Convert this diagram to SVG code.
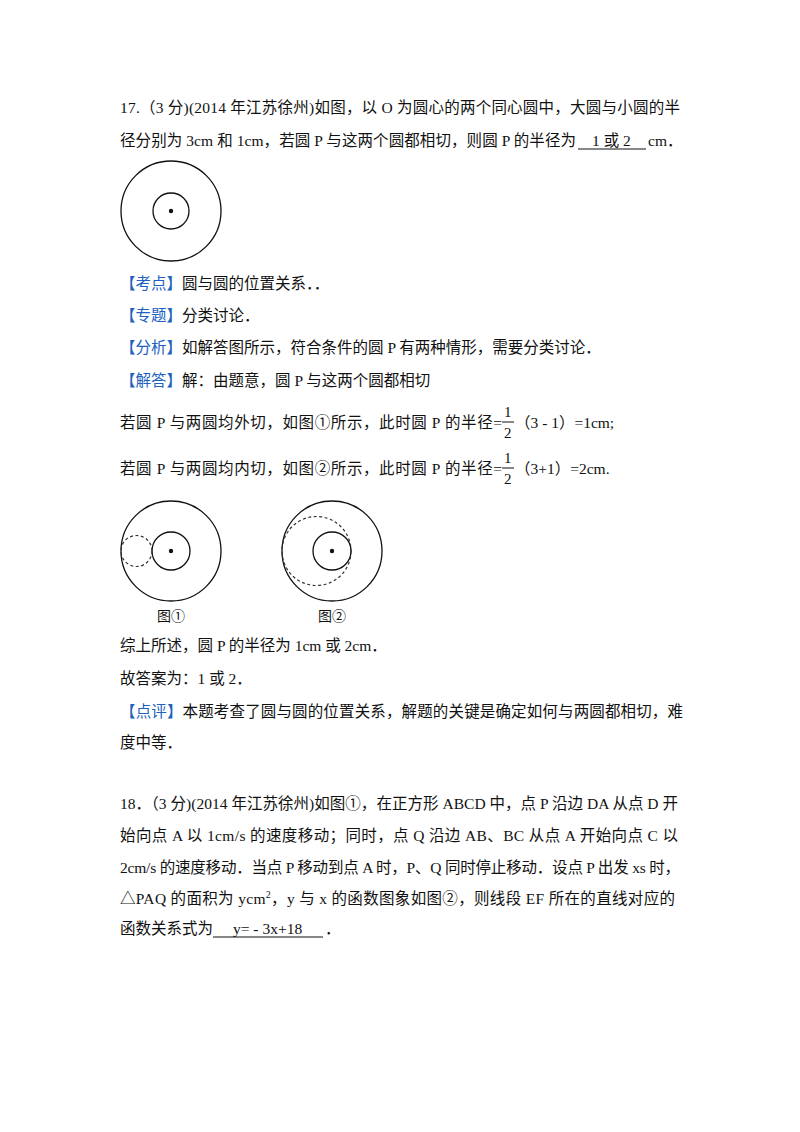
<svg xmlns="http://www.w3.org/2000/svg" width="800" height="1132" viewBox="0 0 800 1132">
<style>
text{font-family:"Liberation Serif","Noto Sans CJK SC",serif;font-size:15.5px;fill:#111}
.b{fill:#2060c0}
.c{fill:none;stroke:#111;stroke-width:1.3}
.d{fill:none;stroke:#333;stroke-width:1.2;stroke-dasharray:3 2.5}
.u{stroke:#111;stroke-width:1}
.s{font-size:15px}
</style>
<rect width="800" height="1132" fill="#fff"/>
<text x="120" y="113" textLength="560">17.（3 分)(2014 年江苏徐州)如图，以 O 为圆心的两个同心圆中，大圆与小圆的半</text>
<text x="120" y="146" textLength="456">径分别为 3cm 和 1cm，若圆 P 与这两个圆都相切，则圆 P 的半径为</text>
<text x="592" y="146">1 或 2</text>
<text x="648" y="146">cm．</text>
<line class="u" x1="578" y1="149" x2="646" y2="149"/>
<g id="fig0"><circle class="c" cx="171" cy="211" r="50"/><circle class="c" cx="171" cy="211" r="18"/><circle cx="171" cy="211" r="2.2" fill="#111"/></g>
<text x="120" y="289"><tspan class="b">【考点】</tspan>圆与圆的位置关系．．</text>
<text x="120" y="321"><tspan class="b">【专题】</tspan>分类讨论．</text>
<text x="120" y="353"><tspan class="b">【分析】</tspan>如解答图所示，符合条件的圆 P 有两种情形，需要分类讨论．</text>
<text x="120" y="386"><tspan class="b">【解答】</tspan>解：由题意，圆 P 与这两个圆都相切</text>
<text x="120" y="428" textLength="382">若圆 P 与两圆均外切，如图①所示，此时圆 P 的半径=</text>
<text x="504" y="417" class="s">1</text><line class="u" x1="502" y1="422" x2="514" y2="422"/><text x="504" y="438" class="s">2</text>
<text x="515" y="428">（3 - 1）=1cm;</text>
<text x="120" y="474" textLength="382">若圆 P 与两圆均内切，如图②所示，此时圆 P 的半径=</text>
<text x="504" y="463" class="s">1</text><line class="u" x1="502" y1="468" x2="514" y2="468"/><text x="504" y="484" class="s">2</text>
<text x="515" y="474">（3+1）=2cm.</text>
<g id="fig1"><circle class="c" cx="171" cy="551" r="50"/><circle class="c" cx="171" cy="551" r="19"/><circle cx="171" cy="551" r="2.2" fill="#111"/><circle class="d" cx="136.5" cy="551" r="15.5"/>
<text x="157" y="621" style="font-size:14px">图①</text></g>
<g id="fig2"><circle class="c" cx="332" cy="551" r="50"/><circle class="c" cx="332" cy="551" r="19"/><circle cx="332" cy="551" r="2.2" fill="#111"/><circle class="d" cx="316.5" cy="551" r="34.5"/>
<text x="318" y="621" style="font-size:14px">图②</text></g>
<text x="120" y="651">综上所述，圆 P 的半径为 1cm 或 2cm．</text>
<text x="120" y="684">故答案为：1 或 2．</text>
<text x="120" y="717" textLength="563"><tspan class="b">【点评】</tspan>本题考查了圆与圆的位置关系，解题的关键是确定如何与两圆都相切，难</text>
<text x="120" y="748">度中等．</text>
<text x="120" y="809" textLength="558">18．（3 分)(2014 年江苏徐州)如图①，在正方形 ABCD 中，点 P 沿边 DA 从点 D 开</text>
<text x="120" y="841" textLength="558">始向点 A 以 1cm/s 的速度移动；同时，点 Q 沿边 AB、BC 从点 A 开始向点 C 以</text>
<text x="120" y="873" textLength="560">2cm/s 的速度移动．当点 P 移动到点 A 时，P、Q 同时停止移动．设点 P 出发 xs 时，</text>
<text x="120" y="904" textLength="555">△PAQ 的面积为 ycm<tspan dy="-6" style="font-size:10px">2</tspan><tspan dy="6">，y 与 x 的函数图象如图②，则线段 EF 所在的直线对应的</tspan></text>
<text x="120" y="934">函数关系式为</text>
<text x="233" y="934">y= - 3x+18</text>
<text x="325" y="934">．</text>
<line class="u" x1="213" y1="937" x2="323" y2="937"/>
</svg>
